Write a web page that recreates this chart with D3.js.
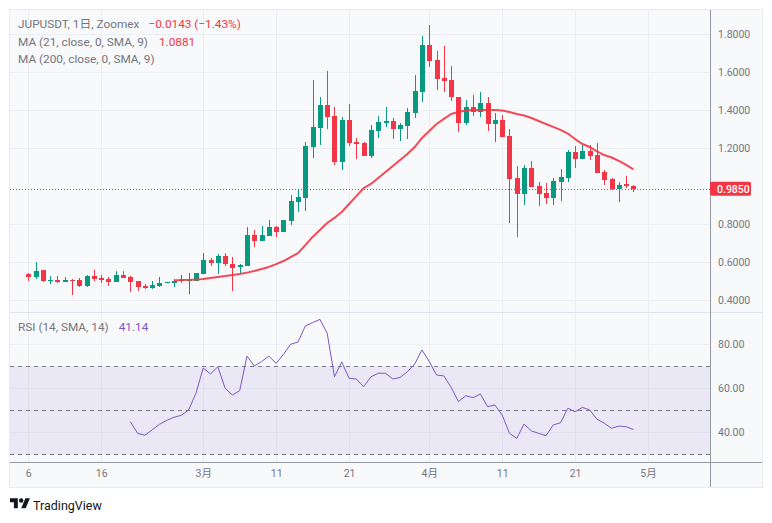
<!DOCTYPE html>
<html><head><meta charset="utf-8">
<script src="https://cdn.jsdelivr.net/npm/d3@7"></script>
<style>
html,body{margin:0;padding:0;background:#ffffff;}
svg{display:block;}
text{font-family:Roboto,"Noto Sans CJK JP",sans-serif;}
</style></head><body>
<svg id="chart" width="772" height="523"></svg>
<script>
// ---------- DATA ----------
const startDate = Date.UTC(2024, 1, 6); // first daily candle (Feb 6)
const openP  = [0.535,0.523,0.556,0.500,0.505,0.496,0.507,0.505,0.475,0.526,0.516,0.510,0.496,0.532,0.521,0.500,0.474,0.465,0.475,0.488,
  0.491,0.503,0.502,0.502,0.539,0.610,0.597,0.632,0.589,0.572,0.581,0.742,0.712,0.739,0.782,0.760,0.818,0.918,0.939,1.207,
  1.307,1.426,1.368,1.128,1.347,1.230,1.225,1.160,1.291,1.333,1.342,1.302,1.318,1.386,1.496,1.742,1.663,1.567,1.558,1.467,
  1.333,1.414,1.388,1.435,1.325,1.346,1.263,1.040,0.960,1.095,1.000,0.961,0.939,1.023,1.044,1.177,1.144,1.184,1.163,1.072,
  1.037,0.984,1.008,0.999];
const highP  = [0.544,0.600,0.560,0.526,0.526,0.521,0.509,0.516,0.530,0.558,0.530,0.521,0.553,0.553,0.526,0.500,0.482,0.500,0.521,0.495,
  0.512,0.530,0.542,0.542,0.647,0.621,0.642,0.647,0.626,0.589,0.786,0.768,0.789,0.821,0.789,0.821,0.953,0.983,1.233,1.558,
  1.467,1.605,1.414,1.361,1.432,1.253,1.232,1.319,1.368,1.414,1.356,1.330,1.409,1.582,1.789,1.847,1.712,1.739,1.632,1.467,
  1.453,1.479,1.493,1.467,1.382,1.374,1.298,1.105,1.111,1.130,1.023,1.014,1.040,1.089,1.189,1.211,1.216,1.214,1.225,1.084,
  1.040,1.021,1.051,1.003];
const lowP   = [0.502,0.512,0.496,0.486,0.491,0.496,0.428,0.470,0.467,0.502,0.488,0.475,0.496,0.517,0.444,0.449,0.456,0.460,0.470,0.488,
  0.470,0.488,0.433,0.502,0.539,0.579,0.539,0.581,0.449,0.539,0.581,0.677,0.712,0.739,0.733,0.760,0.795,0.865,0.870,1.149,
  1.216,1.302,1.110,1.084,1.210,1.142,1.160,1.149,1.254,1.309,1.249,1.239,1.246,1.360,1.444,1.628,1.505,1.496,1.449,1.286,
  1.321,1.370,1.361,1.289,1.233,1.256,0.807,0.733,0.900,0.997,0.896,0.907,0.902,0.923,1.023,1.093,1.144,1.137,1.070,1.005,
  0.979,0.918,0.989,0.970];
const closeP = [0.523,0.553,0.500,0.505,0.495,0.505,0.505,0.475,0.526,0.512,0.505,0.496,0.532,0.517,0.496,0.470,0.463,0.479,0.489,0.495,
  0.500,0.505,0.505,0.542,0.610,0.597,0.632,0.589,0.570,0.586,0.742,0.712,0.742,0.782,0.760,0.821,0.921,0.944,1.211,1.312,
  1.426,1.365,1.128,1.347,1.228,1.221,1.160,1.295,1.335,1.342,1.302,1.319,1.389,1.500,1.742,1.660,1.565,1.554,1.467,1.333,
  1.414,1.388,1.435,1.325,1.346,1.260,1.039,0.960,1.095,0.997,0.960,0.939,1.026,1.047,1.181,1.144,1.184,1.160,1.070,1.033,
  0.984,1.003,0.999,0.985];
// MA(21), starting at candle index 20
const maStart = 20;
const ma21 = [0.503,0.505,0.506,0.508,0.511,0.516,0.521,0.526,0.532,0.537,0.544,0.553,0.563,0.574,0.589,0.605,0.626,0.647,0.689,0.732,
  0.768,0.805,0.832,0.863,0.905,0.947,0.989,1.011,1.042,1.074,1.105,1.137,1.168,1.205,1.253,1.289,1.326,1.353,1.379,1.389,
  1.397,1.400,1.400,1.400,1.400,1.397,1.389,1.379,1.371,1.358,1.342,1.326,1.311,1.295,1.276,1.247,1.221,1.205,1.182,1.163,
  1.150,1.132,1.111,1.088];
// RSI(14), starting at candle index 14
const rsiStart = 14;
const rsi14 = [44.7,39.4,38.5,41.0,43.5,45.3,46.7,47.6,50.0,57.6,69.1,66.4,69.7,59.9,56.8,58.8,74.5,70.0,72.0,74.5,
  71.2,75.3,79.9,80.9,88.2,89.7,91.2,84.9,65.1,71.8,64.4,64.1,60.6,65.1,66.7,66.7,64.1,64.8,67.4,70.9,
  77.3,72.0,65.9,65.5,60.3,53.8,56.5,55.6,57.3,51.5,52.3,47.7,39.4,37.1,43.6,40.5,39.4,38.3,43.2,44.2,
  50.8,49.2,51.2,50.0,45.8,44.0,41.7,42.7,42.4,41.14];
const priceTicks = [0.4,0.6,0.8,1.2,1.4,1.6,1.8];
const rsiTicks = [40,60,80];
const rsiBands = [70,50,30];
const xTickDates = [Date.UTC(2024,1,6),Date.UTC(2024,1,16),Date.UTC(2024,2,1),Date.UTC(2024,2,11),Date.UTC(2024,2,21),
  Date.UTC(2024,3,1),Date.UTC(2024,3,11),Date.UTC(2024,3,21),Date.UTC(2024,4,1)];
const xTickLabels = ["6","16","3月","11","21","4月","11","21","5月"];
const lastPrice = 0.985;
const headerTitle = "JUPUSDT, 1日, Zoomex";
const headerChange = "\u22120.0143 (\u22121.43%)";
const maLabel1 = "MA (21, close, 0, SMA, 9)", maValue1 = "1.0881";
const maLabel2 = "MA (200, close, 0, SMA, 9)";
const rsiLabel = "RSI (14, SMA, 14)", rsiValue = "41.14";

// ---------- LAYOUT ----------
const UP = "#089981", DOWN = "#f23645", PURPLE = "#7e57c2";
const TXT = "#737680", GRID = "#eceef3";
const L = 10, R = 710, OUTR = 762, T = 10, SEP = 312, XAX = 462, B = 487;

const dates = closeP.map((_, i) => d3.utcDay.offset(new Date(startDate), i));
const x = d3.scaleUtc()
  .domain([d3.utcHour.offset(new Date(startDate), -60), d3.utcHour.offset(new Date(startDate), 93.5*24)])
  .range([L, R]);
const yP = d3.scaleLinear().domain([0.3368, 1.9263]).range([SEP, T]);
const yR = d3.scaleLinear().domain([26.36, 94.55]).range([XAX, SEP]);

const svg = d3.select("#chart");

// frame
svg.append("rect").attr("x", L - 0.5).attr("y", T - 0.5).attr("width", OUTR - L + 1).attr("height", B - T + 1)
  .attr("fill", "#f8f9fb").attr("stroke", "#e9ebf0");

// grid
const g = svg.append("g").attr("shape-rendering", "crispEdges");
xTickDates.forEach(d => {
  g.append("line").attr("x1", Math.round(x(d)) + 0.5).attr("x2", Math.round(x(d)) + 0.5)
    .attr("y1", T).attr("y2", XAX).attr("stroke", GRID);
});
priceTicks.forEach(v => {
  g.append("line").attr("x1", L).attr("x2", R).attr("y1", Math.round(yP(v)) + 0.5).attr("y2", Math.round(yP(v)) + 0.5).attr("stroke", GRID);
});
rsiTicks.forEach(v => {
  g.append("line").attr("x1", L).attr("x2", R).attr("y1", Math.round(yR(v)) + 0.5).attr("y2", Math.round(yR(v)) + 0.5).attr("stroke", GRID);
});

// RSI band
svg.append("rect").attr("x", L).attr("width", R - L)
  .attr("y", yR(rsiBands[0])).attr("height", yR(rsiBands[2]) - yR(rsiBands[0]))
  .attr("fill", PURPLE).attr("fill-opacity", 0.1);
rsiBands.forEach(v => {
  svg.append("line").attr("x1", L).attr("x2", R).attr("y1", Math.round(yR(v)) + 0.5).attr("y2", Math.round(yR(v)) + 0.5)
    .attr("stroke", "#787b86").attr("stroke-dasharray", "4,4").attr("shape-rendering", "crispEdges");
});

// pane separator
svg.append("line").attr("x1", L).attr("x2", OUTR).attr("y1", SEP + 0.5).attr("y2", SEP + 0.5)
  .attr("stroke", "#e0e3eb").attr("shape-rendering", "crispEdges");

// last price dotted line
svg.append("line").attr("x1", L).attr("x2", R).attr("y1", Math.round(yP(lastPrice)) + 0.5).attr("y2", Math.round(yP(lastPrice)) + 0.5)
  .attr("stroke", DOWN).attr("stroke-dasharray", "1,2").attr("shape-rendering", "crispEdges");

// candles
const candles = svg.append("g").attr("shape-rendering", "crispEdges");
closeP.forEach((c, i) => {
  const o = openP[i], h = highP[i], l = lowP[i];
  const cx = Math.round(x(dates[i]));
  const col = c >= o ? UP : DOWN;
  candles.append("rect").attr("x", cx).attr("width", 1)
    .attr("y", yP(h)).attr("height", Math.max(1, yP(l) - yP(h))).attr("fill", col);
  const top = yP(Math.max(o, c)), bot = yP(Math.min(o, c));
  candles.append("rect").attr("x", cx - 2).attr("width", 5)
    .attr("y", top).attr("height", Math.max(1, bot - top)).attr("fill", col);
});

// MA line
const maLine = d3.line().x((d, i) => x(dates[maStart + i])).y(d => yP(d));
svg.append("path").datum(ma21).attr("d", maLine).attr("fill", "none")
  .attr("stroke", DOWN).attr("stroke-width", 2).attr("stroke-opacity", 0.9).attr("stroke-linejoin", "round");

// RSI line
const rsiLine = d3.line().x((d, i) => x(dates[rsiStart + i])).y(d => yR(d));
svg.append("path").datum(rsi14).attr("d", rsiLine).attr("fill", "none")
  .attr("stroke", PURPLE).attr("stroke-width", 1);

// axes lines
svg.append("line").attr("x1", R + 0.5).attr("x2", R + 0.5).attr("y1", T).attr("y2", B)
  .attr("stroke", "#9598a1").attr("shape-rendering", "crispEdges");
svg.append("line").attr("x1", L).attr("x2", OUTR).attr("y1", XAX + 0.5).attr("y2", XAX + 0.5)
  .attr("stroke", "#9598a1").attr("shape-rendering", "crispEdges");

// price axis
const pAxis = svg.append("g").attr("transform", `translate(${R},0)`)
  .call(d3.axisRight(yP).tickValues(priceTicks).tickFormat(d3.format(".4f")).tickSize(0).tickPadding(8));
pAxis.select(".domain").remove();
pAxis.selectAll("text").attr("fill", TXT).attr("font-size", "10.5px").attr("font-family", "Roboto,sans-serif");

// RSI axis
const rAxis = svg.append("g").attr("transform", `translate(${R},0)`)
  .call(d3.axisRight(yR).tickValues(rsiTicks).tickFormat(d3.format(".2f")).tickSize(0).tickPadding(8));
rAxis.select(".domain").remove();
rAxis.selectAll("text").attr("fill", TXT).attr("font-size", "10.5px").attr("font-family", "Roboto,sans-serif");

// x axis
const xAxis = svg.append("g").attr("transform", `translate(0,${XAX})`)
  .call(d3.axisBottom(x).tickValues(xTickDates.map(d => new Date(d))).tickFormat((d, i) => xTickLabels[i]).tickSize(0).tickPadding(8));
xAxis.select(".domain").remove();
xAxis.selectAll("text").attr("fill", TXT).attr("font-size", "10.5px").attr("font-family", "Roboto,\"Noto Sans CJK JP\",sans-serif");

// last price label
const ly = yP(lastPrice);
svg.append("rect").attr("x", R).attr("y", ly - 7).attr("width", 41).attr("height", 14).attr("rx", 2).attr("fill", DOWN);
svg.append("text").attr("x", R + 7).attr("y", ly).attr("dy", "0.36em").attr("fill", "#fff")
  .attr("font-size", "10.5px").attr("font-weight", "500").text(lastPrice.toFixed(4));

// legend texts
function legendLine(y, parts) {
  let cx = 18;
  parts.forEach(([txt, col, gap]) => {
    const t = svg.append("text").attr("x", cx).attr("y", y).attr("dy", "0.36em")
      .attr("fill", col).attr("font-size", "11.8px").text(txt);
    cx += t.node().getComputedTextLength() + gap;
  });
}
legendLine(24, [[headerTitle, TXT, 9], [headerChange, DOWN, 0]]);
legendLine(42, [[maLabel1, TXT, 11], [maValue1, DOWN, 0]]);
legendLine(59, [[maLabel2, TXT, 0]]);
legendLine(327, [[rsiLabel, TXT, 10], [rsiValue, PURPLE, 0]]);

// TradingView logo
const logo = svg.append("g").attr("transform", "translate(10,496) scale(0.56)").attr("fill", "#131722");
logo.append("path").attr("d", "M14 22H7V11H0V4h14v18zM28 22h-8l7.5-18h8L28 22z");
logo.append("circle").attr("cx", 20).attr("cy", 8).attr("r", 4);
svg.append("text").attr("x", 33).attr("y", 505).attr("dy", "0.36em").attr("fill", "#131722")
  .attr("font-size", "12.5px").text("TradingView");
</script>
</body></html>
